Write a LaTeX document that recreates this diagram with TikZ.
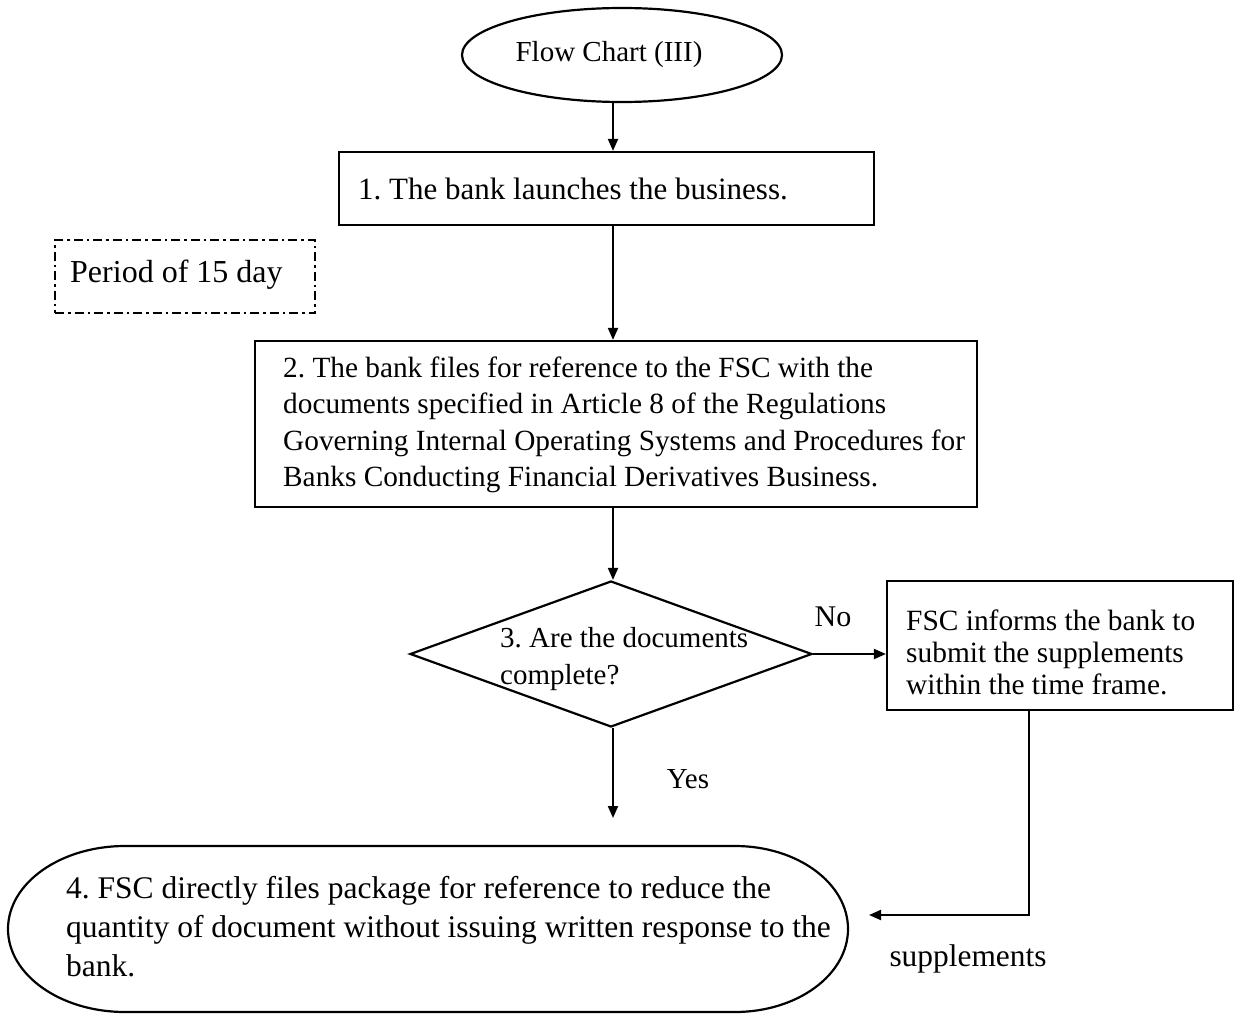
\documentclass[tikz,border=0pt]{standalone}
\usepackage{fontspec}
\setmainfont{Liberation Serif}
\usetikzlibrary{arrows.meta,shapes.geometric,calc}
\frenchspacing
\begin{document}
\begin{tikzpicture}[x=1pt,y=1pt,
  frame/.style={draw, line width=2.2pt, inner sep=0pt},
  txt/.style={inner sep=0pt, align=left, anchor=west},
  fnt/.style 2 args={font=\fontsize{#1}{#2}\selectfont},
  arr/.style={-{Triangle[length=12pt,width=10pt]}, line width=2pt},
  dashdot/.style={draw, line width=2.2pt, inner sep=0pt,
    dash pattern=on 9pt off 4pt on 2.5pt off 4pt}]

\useasboundingbox (0,0) rectangle (1240,-1014);

% vertical axis of the main flow
\coordinate (spine) at (613,0);

% start terminal
\node[frame, ellipse, minimum width=320pt, minimum height=94pt] (start) at (622,-55) {};
\node[inner sep=0pt, fnt={29}{34}] (startlbl) at (609,-55) {Flow Chart (III)};

% step 1
\node[frame, minimum width=535pt, minimum height=73pt] (b1) at (606.5,-188.5) {};
\node[txt, fnt={31}{36}] (b1lbl) at (358,-189) {1. The bank launches the business.};

% time note
\node[dashdot, minimum width=260pt, minimum height=73pt] (period) at (185,-276.5) {};
\node[txt, fnt={32}{36}] (periodlbl) at (70,-275) {Period of 15 day};

% step 2
\node[frame, minimum width=722pt, minimum height=166pt] (b2) at (616,-424) {};
\node[txt, fnt={29.3}{36.5}] (b2lbl) at (283,-425) {2. The bank files for reference to the FSC with the\\
documents specified in Article 8 of the Regulations\\
Governing Internal Operating Systems and Procedures for\\
Banks Conducting Financial Derivatives Business.};

% decision
\node[frame, diamond, minimum width=402pt, minimum height=146pt] (q) at (611,-654) {};
\node[txt, fnt={29}{37}] (qlbl) at (500,-659) {3. Are the documents\\complete?};

% request for supplements
\node[frame, minimum width=346pt, minimum height=129pt] (rb) at (1060,-645.5) {};
\node[txt, fnt={29.4}{32}] (rblbl) at (906,-652) {FSC informs the bank to\\submit the supplements\\within the time frame.};

% step 4 terminal
\draw[line width=2.2pt] (125,-846) -- (735,-846)
  arc[start angle=90, end angle=-90, x radius=113pt, y radius=83pt]
  -- (125,-1012)
  arc[start angle=270, end angle=90, x radius=117pt, y radius=83pt] -- cycle;
\node[txt, fnt={31.5}{39}] (term) at (66,-927) {4. FSC directly files package for reference to reduce the\\
quantity of document without issuing written response to the\\
bank.};

% connectors
\coordinate (yesend) at (613,-818);
\coordinate (fbturn) at (1029,-915);
\coordinate (fbend) at (869,-915);

\draw[arr] (start.south -| spine) -- (b1.north -| spine);
\draw[arr] (b1.south -| spine) -- (b2.north -| spine);
\draw[arr] (b2.south -| spine) -- (q.north -| spine);
\draw[arr] (q.east) -- (q.east -| rb.west);
\draw[arr] (q.south -| spine) -- (yesend);
\draw[arr] (rb.south -| fbturn) -- (fbturn) -- (fbend);

% branch labels
\node[inner sep=0pt, fnt={30}{34}] (nolbl) at (833,-617) {No};
\node[inner sep=0pt, fnt={29}{34}] (yeslbl) at (688,-779) {Yes};
\node[inner sep=0pt, fnt={31.4}{36}] (suplbl) at (968,-959) {supplements};

\end{tikzpicture}
\end{document}
